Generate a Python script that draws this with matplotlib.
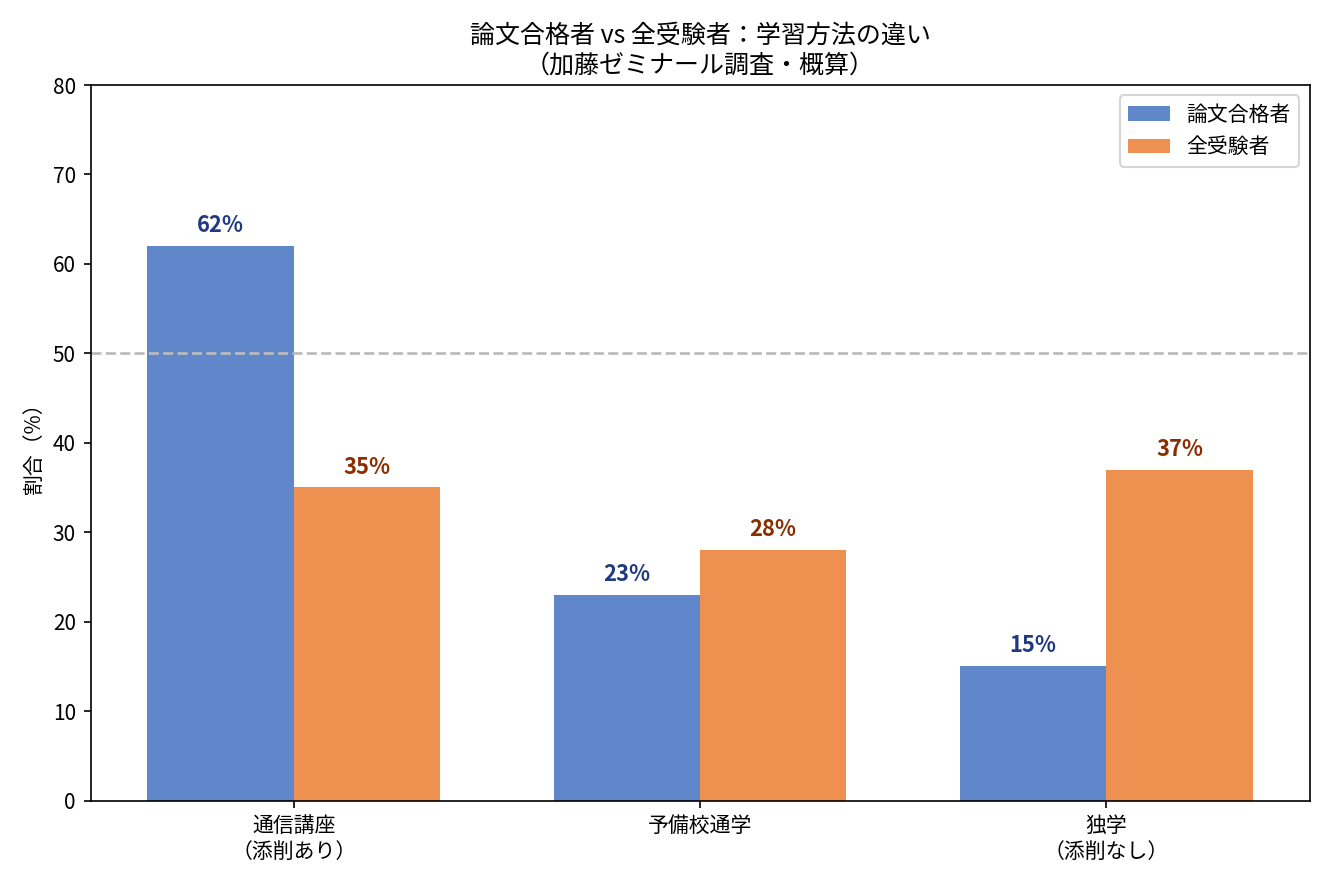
import matplotlib
matplotlib.use("Agg")
import matplotlib.pyplot as plt
import numpy as np

plt.rcParams['font.family'] = ['Noto Sans CJK JP', 'DejaVu Sans']

categories = ["通信講座\n（添削あり）", "予備校通学", "独学\n（添削なし）"]
passers = [62, 23, 15]
all_examinees = [35, 28, 37]
series_names = ["論文合格者", "全受験者"]

fig, ax = plt.subplots(figsize=(8.88, 5.9), dpi=150)
x = np.arange(len(categories))
w = 0.36
b1 = ax.bar(x - w/2, passers, w, color="#5f87ca", label=series_names[0])
b2 = ax.bar(x + w/2, all_examinees, w, color="#ee9150", label=series_names[1])
for bars, col in ((b1, "#1f3a80"), (b2, "#8a2e00")):
    for r in bars:
        ax.text(r.get_x() + r.get_width()/2, r.get_height() + 1, f"{int(r.get_height())}%",
                ha="center", va="bottom", fontsize=10.5, fontweight="bold", color=col)
ax.axhline(50, color="#bbbbbb", linestyle="--", linewidth=1.3)
ax.set_ylim(0, 80)
ax.set_xlim(-0.5, 2.5)
ax.set_xticks(x)
ax.set_xticklabels(categories)
ax.set_ylabel("割合（%）")
ax.set_title("論文合格者 vs 全受験者：学習方法の違い\n（加藤ゼミナール調査・概算）", fontsize=12)
ax.legend(loc="upper right")
fig.tight_layout()
fig.savefig("out.png", dpi=150)
